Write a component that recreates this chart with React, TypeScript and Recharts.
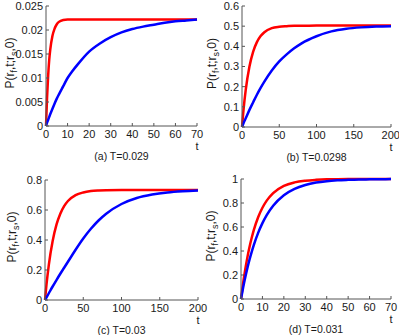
import { LineChart, Line, XAxis, YAxis } from "recharts";

// panel (a) T=0.029
const tA = [0, 0.5, 1, 1.5, 2, 3, 4, 5, 6, 8, 10, 12, 15, 20, 25, 30, 35, 40, 45, 50, 55, 60, 65, 70];
const redA = [0, 0.006, 0.0105, 0.0138, 0.016, 0.0188, 0.0203, 0.0212, 0.0217, 0.0221, 0.0222, 0.0222, 0.0222, 0.0222, 0.0222, 0.0222, 0.0222, 0.0222, 0.0222, 0.0222, 0.0222, 0.0222, 0.0222, 0.0222];
const blueA = [0, 0.0007, 0.0013, 0.0019, 0.0025, 0.0036, 0.0047, 0.0057, 0.0066, 0.0083, 0.01, 0.0113, 0.013, 0.0155, 0.0172, 0.0185, 0.0195, 0.0202, 0.0207, 0.0211, 0.0215, 0.0218, 0.022, 0.0222];

// panel (b) T=0.0298
const tB = [0, 2, 5, 10, 15, 20, 25, 30, 40, 50, 60, 70, 80, 100, 120, 140, 160, 180, 200];
const redB = [0, 0.084, 0.184, 0.3, 0.374, 0.421, 0.451, 0.47, 0.49, 0.497, 0.5, 0.502, 0.502, 0.503, 0.503, 0.503, 0.503, 0.503, 0.503];
const blueB = [0, 0.018, 0.043, 0.085, 0.123, 0.16, 0.194, 0.225, 0.28, 0.325, 0.36, 0.39, 0.415, 0.45, 0.474, 0.487, 0.494, 0.498, 0.5];

// panel (c) T=0.03
const tC = [0, 2, 5, 10, 15, 20, 25, 30, 40, 50, 60, 70, 80, 100, 120, 140, 160, 180, 200];
const redC = [0, 0.105, 0.234, 0.393, 0.502, 0.575, 0.626, 0.66, 0.699, 0.717, 0.726, 0.73, 0.732, 0.733, 0.733, 0.733, 0.733, 0.733, 0.733];
const blueC = [0, 0.018, 0.045, 0.09, 0.133, 0.175, 0.215, 0.255, 0.335, 0.41, 0.475, 0.53, 0.575, 0.64, 0.68, 0.703, 0.717, 0.725, 0.73];

// panel (d) T=0.031
const tD = [0, 1, 2, 3, 4, 5, 6, 8, 10, 12, 15, 20, 25, 30, 35, 40, 45, 50, 55, 60, 65, 70];
const redD = [0, 0.133, 0.249, 0.349, 0.435, 0.51, 0.576, 0.681, 0.76, 0.82, 0.883, 0.943, 0.972, 0.986, 0.993, 0.997, 0.998, 0.999, 1, 1, 1, 1];
const blueD = [0, 0.095, 0.181, 0.259, 0.33, 0.393, 0.451, 0.551, 0.632, 0.699, 0.777, 0.865, 0.918, 0.95, 0.97, 0.982, 0.989, 0.993, 0.996, 0.997, 0.998, 0.999];

const ticks70 = [0, 10, 20, 30, 40, 50, 60, 70];
const ticks200 = [0, 50, 100, 150, 200];
const yTicksA = [0, 0.005, 0.01, 0.015, 0.02, 0.025];
const yTicksB = [0, 0.1, 0.2, 0.3, 0.4, 0.5, 0.6];
const yTicksC = [0, 0.1, 0.2, 0.3, 0.4, 0.5, 0.6, 0.7, 0.8];
const yTicksD = [0, 0.2, 0.4, 0.6, 0.8, 1];

const FONT = "'Liberation Sans', Arial, Helvetica, sans-serif";
const AXIS = "#555";
const TXT = "#1a1a1a";

const rows = (t: number[], red: number[], blue: number[]) =>
  t.map((v, i) => ({ t: v, red: red[i], blue: blue[i] }));

interface PanelProps {
  left: number;
  top: number;
  width: number;
  height: number;
  margin: { top: number; right: number; bottom: number; left: number };
  yWidth: number;
  labelX: number;
  data: Array<{ t: number; red: number; blue: number }>;
  xTicks: number[];
  yTicks: number[];
  title: string;
}

function Panel({ left, top, width, height, margin, yWidth, labelX, data, xTicks, yTicks, title }: PanelProps) {
  const xMax = xTicks[xTicks.length - 1];
  const yMax = yTicks[yTicks.length - 1];
  const tickStyle = { fill: TXT, fontSize: 11, fontFamily: FONT };

  const xLabel = (props: any) => {
    const vb = props.viewBox || {};
    const x0 = vb.x ?? 0;
    const w = vb.width ?? 0;
    const y0 = vb.y ?? 0;
    return (
      <g fontFamily={FONT} fill={TXT}>
        <text x={x0 + w} y={y0 + 23.5} textAnchor="middle" fontSize={11}>t</text>
        <text x={x0 + w / 2} y={y0 + 34} textAnchor="middle" fontSize={10.5}>{title}</text>
      </g>
    );
  };

  const yLabel = (props: any) => {
    const vb = props.viewBox || {};
    const cy = (vb.y ?? 0) + (vb.height ?? 0) / 2 - 3;
    return (
      <text x={labelX} y={cy} transform={`rotate(-90, ${labelX}, ${cy})`} textAnchor="middle" fontSize={12} fontFamily={FONT} fill={TXT}>
        P(r<tspan fontSize={9} dy={3}>f</tspan>
        <tspan dy={-3}>,t;r</tspan>
        <tspan fontSize={9} dy={3}>s</tspan>
        <tspan dy={-3}>,0)</tspan>
      </text>
    );
  };

  return (
    <div style={{ position: "absolute", left, top }}>
      <LineChart width={width} height={height} data={data} margin={margin}>
        <XAxis
          dataKey="t"
          type="number"
          domain={[0, xMax]}
          ticks={xTicks}
          height={20}
          tick={tickStyle}
          tickSize={-3}
          tickMargin={7}
          stroke={AXIS}
          label={{ content: xLabel }}
        />
        <XAxis xAxisId="top" orientation="top" type="number" domain={[0, xMax]} ticks={xTicks} height={0} tick={false} tickSize={-3} stroke={AXIS} />
        <YAxis
          type="number"
          domain={[0, yMax]}
          ticks={yTicks}
          width={yWidth}
          tick={tickStyle}
          tickSize={-3}
          tickMargin={6}
          stroke={AXIS}
          label={{ content: yLabel }}
        />
        <YAxis yAxisId="right" orientation="right" type="number" domain={[0, yMax]} ticks={yTicks} width={0} tick={false} tickSize={-3} stroke={AXIS} />
        <Line dataKey="red" type="monotone" stroke="#ff0000" strokeWidth={2.5} dot={false} isAnimationActive={false} />
        <Line dataKey="blue" type="monotone" stroke="#0000ff" strokeWidth={2.5} dot={false} isAnimationActive={false} />
      </LineChart>
    </div>
  );
}

export default function App() {
  return (
    <div style={{ position: "absolute", left: 0, top: 0, width: 399, height: 335, background: "#fff", overflow: "hidden" }}>
      <Panel
        left={0} top={0} width={215} height={167}
        margin={{ top: 6, right: 18, bottom: 21, left: 0 }}
        yWidth={46} labelX={14}
        data={rows(tA, redA, blueA)} xTicks={ticks70} yTicks={yTicksA} title="(a) T=0.029"
      />
      <Panel
        left={200} top={0} width={199} height={167}
        margin={{ top: 6, right: 8, bottom: 20, left: 0 }}
        yWidth={42} labelX={16}
        data={rows(tB, redB, blueB)} xTicks={ticks200} yTicks={yTicksB} title="(b) T=0.0298"
      />
      <Panel
        left={0} top={168} width={215} height={167}
        margin={{ top: 12, right: 17, bottom: 15, left: 0 }}
        yWidth={45} labelX={16}
        data={rows(tC, redC, blueC)} xTicks={ticks200} yTicks={yTicksC} title="(c) T=0.03"
      />
      <Panel
        left={200} top={168} width={199} height={167}
        margin={{ top: 11, right: 8, bottom: 16, left: 0 }}
        yWidth={41} labelX={15}
        data={rows(tD, redD, blueD)} xTicks={ticks70} yTicks={yTicksD} title="(d) T=0.031"
      />
    </div>
  );
}
